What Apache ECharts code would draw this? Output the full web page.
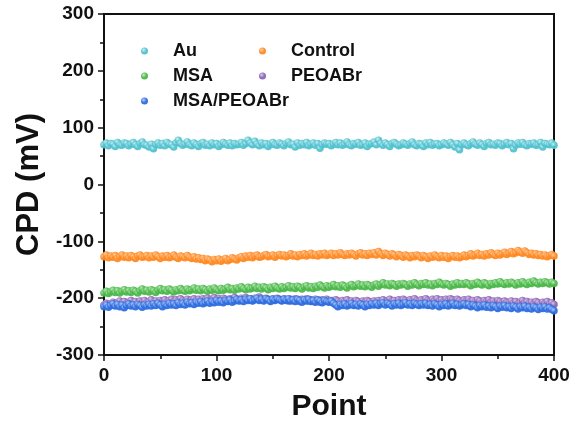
<!DOCTYPE html>
<html>
<head>
<meta charset="utf-8">
<script src="https://cdn.jsdelivr.net/npm/echarts@6/dist/echarts.min.js"></script>
<style>html,body{margin:0;padding:0;background:#fff}#c{width:574px;height:429px}</style>
</head>
<body>
<div id="c"></div>
<script>
// x step between stored samples (Point index)
const xStep = 2;
const seriesNames = ['Au', 'Control', 'MSA', 'PEOABr', 'MSA/PEOABr'];
const xTicks = [0, 100, 200, 300, 400];
const yTicks = [-300, -200, -100, 0, 100, 200, 300];

const au = [
70,73,68,72,71,67,74,70,69,73,72,68,71,74,70,67,72,75,70,69,
66,71,63,70,73,69,72,68,74,71,70,66,73,78,72,69,71,75,70,68,
73,70,67,72,74,69,71,68,73,70,72,67,70,74,71,69,73,68,72,70,
71,74,69,72,78,73,70,76,71,68,73,70,72,67,71,74,70,69,73,71,
68,72,75,70,71,66,73,69,72,70,74,68,71,73,69,72,64,70,73,71,
72,68,71,74,70,73,69,71,75,70,68,72,71,74,69,70,73,67,71,72,
75,70,78,72,69,73,70,67,72,74,71,68,70,73,71,69,72,75,70,68,
72,71,67,73,70,74,69,71,72,68,70,73,71,69,74,70,66,72,61,70,
73,70,68,72,75,71,69,73,70,67,72,74,70,71,69,73,72,68,71,74,
70,72,63,69,73,71,74,70,68,72,71,73,69,70,74,66,72,71,70,73,
69];
const control = [
-127,-124,-129,-126,-128,-125,-130,-127,-124,-128,-126,-129,-125,-127,-130,-126,-124,-128,-127,-125,
-129,-126,-128,-124,-127,-130,-126,-128,-125,-129,-127,-124,-128,-130,-126,-127,-129,-125,-128,-130,
-127,-131,-129,-132,-130,-134,-131,-133,-136,-132,-134,-131,-135,-133,-130,-134,-132,-129,-131,-133,
-129,-127,-130,-126,-128,-125,-129,-126,-124,-128,-127,-125,-123,-127,-126,-124,-128,-125,-123,-126,
-124,-127,-125,-122,-126,-124,-127,-123,-125,-122,-126,-124,-121,-125,-123,-126,-122,-124,-121,-125,
-123,-121,-125,-122,-124,-120,-123,-125,-122,-124,-121,-123,-126,-122,-120,-124,-122,-125,-121,-123,
-120,-124,-118,-122,-125,-121,-123,-126,-122,-124,-127,-123,-125,-128,-124,-126,-129,-125,-127,-124,
-126,-129,-125,-127,-130,-126,-128,-124,-127,-129,-125,-128,-126,-130,-127,-125,-128,-126,-129,-127,
-124,-127,-125,-122,-126,-124,-121,-125,-123,-126,-122,-124,-120,-123,-125,-121,-124,-122,-119,-123,
-121,-118,-122,-120,-116,-119,-121,-117,-120,-123,-121,-124,-122,-125,-123,-126,-124,-127,-125,-123,
-126];
const msa = [
-191,-188,-192,-189,-186,-190,-187,-191,-188,-185,-189,-187,-190,-186,-188,-191,-187,-184,-188,-186,
-189,-185,-187,-190,-186,-183,-187,-185,-188,-184,-186,-189,-185,-187,-183,-186,-188,-184,-187,-185,
-182,-186,-184,-187,-183,-185,-188,-184,-186,-182,-185,-187,-183,-186,-184,-181,-185,-183,-186,-182,
-184,-180,-183,-185,-181,-184,-182,-179,-183,-181,-184,-180,-182,-185,-181,-183,-179,-182,-184,-180,
-183,-181,-178,-182,-180,-183,-179,-181,-184,-180,-178,-182,-180,-183,-179,-181,-177,-180,-182,-178,
-181,-179,-176,-180,-178,-181,-177,-179,-182,-178,-176,-180,-178,-175,-179,-177,-180,-176,-178,-181,
-177,-175,-179,-176,-173,-177,-175,-178,-174,-176,-179,-175,-177,-174,-176,-179,-175,-177,-173,-176,
-178,-174,-176,-173,-177,-175,-178,-174,-176,-172,-175,-177,-174,-176,-179,-175,-177,-173,-176,-174,
-176,-173,-175,-178,-174,-176,-172,-175,-177,-173,-175,-178,-174,-176,-173,-175,-171,-174,-176,-173,
-175,-172,-174,-177,-173,-175,-171,-174,-176,-172,-174,-170,-173,-175,-172,-174,-171,-173,-175,-172,
-174];
const peoabr = [
-212,-209,-213,-210,-207,-211,-208,-205,-209,-206,-210,-207,-204,-208,-206,-209,-205,-207,-204,-208,
-206,-203,-207,-205,-208,-204,-206,-203,-207,-204,-202,-206,-203,-205,-201,-204,-206,-202,-205,-203,
-201,-204,-202,-205,-201,-203,-200,-204,-202,-199,-203,-201,-204,-200,-202,-205,-201,-203,-199,-202,
-204,-200,-202,-199,-203,-201,-204,-200,-202,-198,-201,-203,-200,-202,-204,-201,-203,-200,-202,-204,
-201,-203,-205,-202,-204,-201,-203,-206,-202,-204,-201,-205,-203,-206,-202,-204,-207,-203,-205,-202,
-206,-204,-207,-203,-205,-208,-204,-206,-203,-207,-205,-208,-204,-206,-209,-205,-207,-204,-206,-208,
-205,-207,-204,-206,-203,-207,-205,-202,-206,-204,-207,-203,-205,-202,-204,-206,-203,-205,-201,-204,
-206,-203,-205,-201,-204,-206,-202,-204,-201,-205,-203,-206,-202,-204,-201,-203,-205,-202,-204,-206,
-203,-205,-202,-206,-204,-207,-203,-205,-208,-204,-206,-203,-207,-205,-208,-204,-206,-209,-205,-207,
-208,-205,-209,-206,-210,-207,-204,-208,-206,-209,-207,-210,-206,-208,-211,-207,-209,-206,-210,-208,
-211];
const msaPeoabr = [
-215,-212,-216,-213,-210,-214,-211,-215,-212,-217,-213,-210,-214,-212,-215,-211,-213,-216,-212,-214,
-211,-214,-210,-213,-209,-212,-215,-211,-213,-209,-212,-210,-213,-208,-211,-209,-212,-207,-210,-208,
-211,-207,-209,-206,-210,-208,-205,-209,-206,-208,-204,-207,-205,-208,-204,-206,-203,-207,-205,-202,
-205,-203,-206,-202,-204,-201,-205,-203,-200,-204,-202,-205,-201,-203,-206,-202,-204,-201,-203,-205,
-202,-204,-201,-205,-203,-206,-202,-204,-207,-203,-205,-202,-206,-204,-207,-203,-205,-208,-204,-206,
-207,-205,-209,-212,-215,-211,-213,-210,-214,-212,-209,-213,-211,-214,-210,-212,-215,-211,-213,-210,
-212,-209,-213,-210,-208,-212,-209,-211,-214,-210,-212,-209,-213,-211,-208,-212,-210,-213,-209,-211,
-213,-210,-212,-209,-213,-211,-214,-210,-212,-215,-211,-213,-210,-214,-212,-209,-213,-211,-214,-212,
-210,-213,-211,-215,-212,-214,-217,-213,-215,-212,-216,-214,-217,-213,-215,-218,-214,-216,-213,-217,
-215,-218,-214,-216,-219,-215,-217,-214,-218,-216,-219,-215,-217,-220,-216,-218,-215,-219,-217,-220,
-222];

const values = [au, control, msa, peoabr, msaPeoabr];
const baseColors = ['#52c2cf', '#ff8a24', '#4cb84a', '#8b65b6', '#2f6ee0'];
const lightColors = ['#c9f0f4', '#ffd2a8', '#c3eec0', '#dccbee', '#b9d0fb'];

function sphere(i) {
  return {
    type: 'radial', x: 0.38, y: 0.35, r: 0.7,
    colorStops: [{offset: 0, color: lightColors[i]}, {offset: 0.55, color: baseColors[i]}, {offset: 1, color: baseColors[i]}]
  };
}

const font = "'Liberation Sans', Arial, sans-serif";
const chart = echarts.init(document.getElementById('c'), null, {renderer: 'canvas'});

const series = seriesNames.map((name, i) => ({
  name: name,
  type: 'scatter',
  symbol: 'circle',
  symbolSize: 7.5,
  clip: true,
  itemStyle: {color: sphere(i), opacity: 0.95},
  data: values[i].map((v, k) => [k * xStep, v])
}));

const legendText = {fontFamily: font, fontWeight: 'bold', fontSize: 18, color: '#111', padding: [0, 0, 0, 20]};
chart.setOption({
  animation: false,
  backgroundColor: '#fff',
  grid: {left: 104, right: 20, top: 14, bottom: 74, show: true, borderColor: '#111', borderWidth: 2},
  legend: [
    {data: ['Au', 'MSA', 'MSA/PEOABr'], orient: 'vertical', left: 136, top: 37, itemWidth: 7, itemHeight: 7, itemGap: 7, icon: 'circle', textStyle: legendText},
    {data: ['Control', 'PEOABr'], orient: 'vertical', left: 254, top: 37, itemWidth: 7, itemHeight: 7, itemGap: 7, icon: 'circle', textStyle: legendText}
  ],
  xAxis: {
    type: 'value', min: xTicks[0], max: xTicks[xTicks.length - 1], interval: 100,
    name: 'Point', nameLocation: 'middle', nameGap: 37,
    nameTextStyle: {fontFamily: font, fontWeight: 'bold', fontSize: 30, color: '#111'},
    axisLine: {show: true, onZero: false, lineStyle: {color: '#111', width: 2}},
    axisTick: {show: true, inside: false, length: 6, lineStyle: {color: '#111', width: 1.5}},
    minorTick: {show: true, splitNumber: 2, length: 4, lineStyle: {color: '#111', width: 1.5}},
    splitLine: {show: false},
    axisLabel: {fontFamily: font, fontWeight: 'bold', fontSize: 19, color: '#111', margin: 11}
  },
  yAxis: {
    type: 'value', min: yTicks[0], max: yTicks[yTicks.length - 1], interval: 100,
    name: 'CPD (mV)', nameLocation: 'middle', nameGap: 58,
    nameTextStyle: {fontFamily: font, fontWeight: 'bold', fontSize: 31, color: '#111'},
    axisLine: {show: true, onZero: false, lineStyle: {color: '#111', width: 2}},
    axisTick: {show: true, inside: false, length: 6, lineStyle: {color: '#111', width: 1.5}},
    minorTick: {show: true, splitNumber: 2, length: 4, lineStyle: {color: '#111', width: 1.5}},
    splitLine: {show: false},
    axisLabel: {fontFamily: font, fontWeight: 'bold', fontSize: 19, color: '#111', margin: 10}
  },
  series: series
});
</script>
</body>
</html>
